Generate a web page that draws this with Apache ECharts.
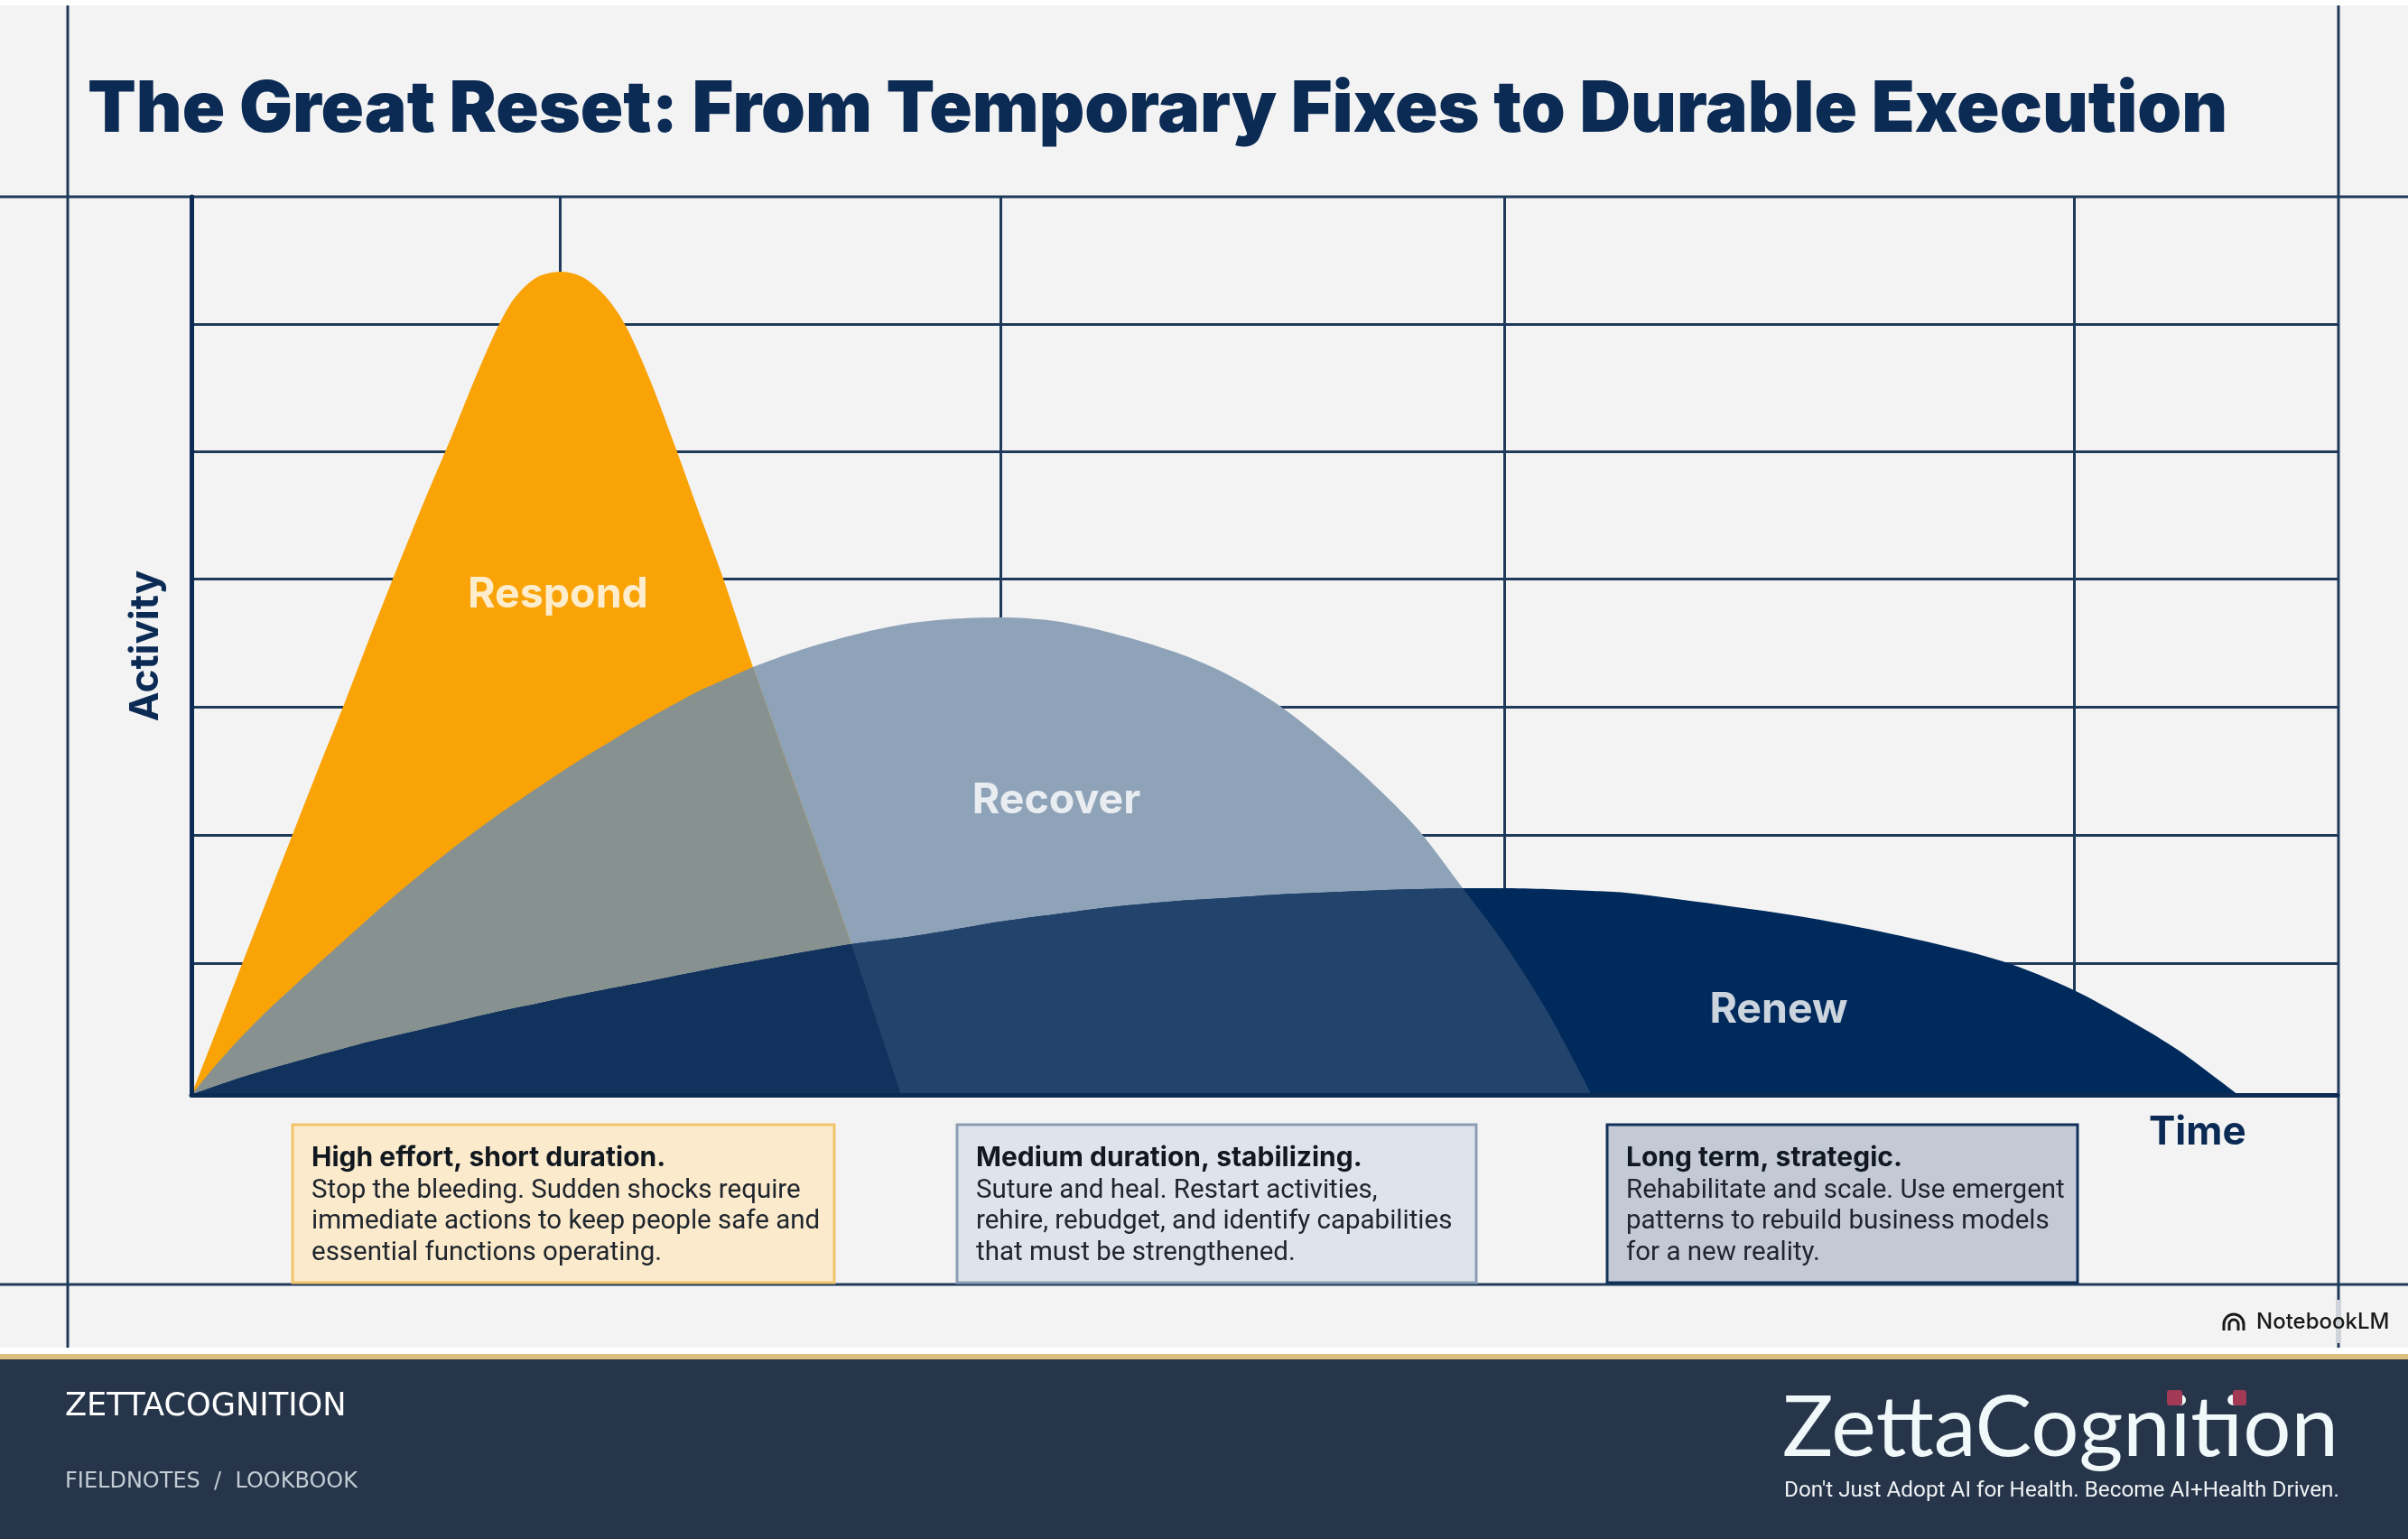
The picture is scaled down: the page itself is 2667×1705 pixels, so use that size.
<!DOCTYPE html>
<html>
<head>
<meta charset="utf-8">
<title>The Great Reset</title>
<style>
html, body { margin: 0; padding: 0; background: #fff; }
#container { width: 2667px; height: 1705px; }
</style>
<script src="https://cdn.jsdelivr.net/npm/echarts@6/dist/echarts.min.js"></script>
</head>
<body>
<div id="container"></div>
<script>
var titleText = 'The Great Reset: From Temporary Fixes to Durable Execution';

// time samples shared by the three curves
var times = [0, 2.8, 5.8, 8.8, 11.3, 13.8, 16.8, 19.8, 22.8, 25.8, 28.8, 31.3, 33.9, 35.8, 38.3, 41.0, 43.5,
    46.0, 48.1, 50.8, 53.7, 56.3, 58.8, 62.2, 67.2, 73.1, 78.6, 83.8, 89.6, 95.6, 101.8, 109.4, 114.5, 120.4,
    127.3, 132.4, 136.2, 140.8, 145.1, 150.2, 155.1, 158.8, 169.0, 179.2, 189.4, 200.6, 208.5, 214.9, 220.0,
    224.6, 226.7];
var respond = [0, 7.2, 15.0, 22.7, 29.1, 35.5, 43.0, 50.8, 58.4, 65.8, 72.9, 79.1, 85.0, 88.3, 90.6, 91.2, 90.5,
    88.3, 85.2, 79.2, 71.5, 64.3, 57.5, 47.4, 33.3, 16.7, 0];
var recover = [0, 3.4, 6.7, 9.7, 12.0, 14.3, 17.0, 19.7, 22.3, 24.8, 27.2, 29.1, 31.0, 32.3, 34.0, 35.8, 37.4,
    38.9, 40.2, 41.8, 43.4, 44.8, 45.9, 47.4, 49.2, 50.9, 52.1, 52.7, 52.9, 52.5, 51.2, 48.9, 46.7, 43.2,
    37.7, 33.0, 29.0, 22.9, 17.2, 9.2, 0];
var renew = [0, 1.0, 2.0, 2.9, 3.6, 4.3, 5.1, 5.9, 6.6, 7.3, 8.0, 8.6, 9.2, 9.6, 10.1, 10.7, 11.2,
    11.7, 12.1, 12.6, 13.2, 13.7, 14.2, 14.8, 15.7, 16.7, 17.4, 18.2, 19.2, 20.0, 20.8, 21.5, 21.8, 22.2,
    22.5, 22.7, 22.8, 22.9, 22.9, 22.8, 22.6, 22.4, 21.1, 19.6, 17.6, 14.8, 11.6, 8.1, 5.0, 1.6, 0];

var gridValuesY = [14.6, 28.8, 43.0, 57.2, 71.3, 85.4];
var gridValuesX = [40.8, 89.6, 145.4, 208.5];

var phaseNames = ['Respond', 'Recover', 'Renew'];
var phaseLabelX = [40.6, 95.8, 175.8];
var phaseLabelY = [55.4, 32.6, 9.4];

var boxHeads = ['High effort, short duration.', 'Medium duration, stabilizing.', 'Long term, strategic.'];
var boxBodies = [
    ['Stop the bleeding. Sudden shocks require', 'immediate actions to keep people safe and', 'essential functions operating.'],
    ['Suture and heal. Restart activities,', 'rehire, rebudget, and identify capabilities', 'that must be strengthened.'],
    ['Rehabilitate and scale. Use emergent', 'patterns to rebuild business models', 'for a new reality.']
];

var colors = {
    bg: '#f3f3f3',
    ink: '#0b2a54',
    rule: '#1f3a5a',
    respond: '#faa307',
    recover: '#8fa3b8',
    renew: '#002a5c',
    respondRecover: '#87918f',
    recoverRenew: '#22446c',
    allThree: '#10325c'
};

function area(name, values, color, z, start) {
    start = start || 0;
    return {
        name: name,
        type: 'line',
        data: values.map(function (v, i) { return [times[i + start], v]; }),
        showSymbol: false,
        silent: true,
        smooth: 0.3,
        z: z,
        lineStyle: { width: 0 },
        itemStyle: { color: color },
        areaStyle: { color: color, opacity: 1 }
    };
}
// the overlap of two curves: lowerFirst up to where they meet, then the other one
function overlap(name, lowerFirst, other, color, z) {
    var k = 1;
    while (lowerFirst[k] < other[k]) { k++; }
    return [
        area(name, lowerFirst.slice(0, k + 1), color, z),
        area(name, other.slice(k), color, z, k)
    ];
}
function rule(x1, y1, x2, y2, width, color, z) {
    return {
        type: 'line', z: z || -5, silent: true,
        shape: { x1: x1, y1: y1, x2: x2, y2: y2 },
        style: { stroke: color || colors.rule, lineWidth: width || 3 }
    };
}
// y is the text baseline
function text(str, x, y, weight, size, family, fill) {
    return {
        type: 'text', z: 30, silent: true,
        style: {
            text: str, x: x, y: y - size * 0.34, fill: fill,
            font: weight + ' ' + size + 'px ' + family,
            textVerticalAlign: 'middle'
        }
    };
}
function box(x, w, fill, stroke, i) {
    var out = [
        { type: 'rect', z: 20, silent: true, shape: { x: x, y: 1246, width: w, height: 175 },
          style: { fill: fill, stroke: stroke, lineWidth: 3 } },
        text(boxHeads[i], x + 21, 1293, 700, 30, 'Inter', '#111820')
    ];
    boxBodies[i].forEach(function (line, k) {
        out.push(text(line, x + 21, 1329.5 + k * 34.5, 400, 29.5, 'Roboto', '#20262e'));
    });
    return out;
}
function arch(r) {
    return [
        { type: 'arc', z: 30, silent: true, shape: { cx: 2474, cy: 1467, r: r, startAngle: Math.PI, endAngle: 0, clockwise: true },
          style: { stroke: '#1a1a1a', fill: null, lineWidth: 3 } },
        rule(2474 - r, 1467, 2474 - r, 1474, 3, '#1a1a1a', 30),
        rule(2474 + r, 1467, 2474 + r, 1474, 3, '#1a1a1a', 30)
    ];
}

var graphics = [
    { type: 'rect', z: -10, silent: true, shape: { x: 0, y: 6, width: 2667, height: 1487 }, style: { fill: colors.bg } },
    rule(75, 6, 75, 1493),
    rule(2590, 6, 2590, 1440),
    rule(2590, 1488, 2590, 1493),
    { type: 'rect', z: -5, silent: true, shape: { x: 2587, y: 1440, width: 6, height: 48 }, style: { fill: '#b9c0c9', opacity: 0.6 } },
    rule(0, 218, 2667, 218),
    rule(0, 1423, 2667, 1423),
    { type: 'rect', z: 0, silent: true, shape: { x: 0, y: 1500, width: 2667, height: 6 }, style: { fill: '#dcbf7a' } },
    { type: 'rect', z: 0, silent: true, shape: { x: 0, y: 1506, width: 2667, height: 199 }, style: { fill: '#263549' } },
    text('Time', 2380, 1270, 700, 44, 'Inter', colors.ink),
    text('ZETTACOGNITION', 72, 1571, 400, 35.2, '"DejaVu Sans"', '#ffffff'),
    text('FIELDNOTES  /  LOOKBOOK', 72, 1650, 400, 24, '"DejaVu Sans"', '#c3ccd5'),
    text('ZettaCognition', 1974, 1615, 400, 94, 'Lato', '#f0f8fa'),
    { type: 'rect', z: 31, silent: true, shape: { x: 2400, y: 1540, width: 17, height: 17, r: 3 }, style: { fill: '#a33a55' } },
    { type: 'rect', z: 31, silent: true, shape: { x: 2473, y: 1540, width: 15, height: 17, r: 3 }, style: { fill: '#a33a55' } },
    text("Don't Just Adopt AI for Health. Become AI+Health Driven.", 1976, 1660, 400, 24.3, 'Roboto', '#eef1f4'),
    text('NotebookLM', 2499, 1473, 500, 24, 'Inter', '#1a1a1a')
].concat(
    arch(11), arch(5),
    box(324, 600, '#fbeacb', '#f3c36a', 0),
    box(1060, 575, '#dfe4ec', '#8c9db4', 1),
    box(1780, 521, '#c3cad6', '#12315a', 2)
);

var dom = document.getElementById('container');
var myChart = echarts.init(dom);

var option = {
    animation: false,
    backgroundColor: '#ffffff',
    title: {
        text: titleText,
        left: 97,
        top: 83,
        padding: 0,
        textStyle: { fontFamily: 'Inter', fontWeight: 900, fontSize: 78.4, color: colors.ink }
    },
    grid: { left: 212, top: 218, right: 78, bottom: 492, outerBoundsMode: 'none' },
    xAxis: {
        type: 'value', min: 0, max: 237.7, z: 10,
        axisLine: { onZero: false, lineStyle: { color: colors.ink, width: 5 } },
        axisTick: { show: false }, axisLabel: { show: false }, splitLine: { show: false }
    },
    yAxis: {
        type: 'value', min: 0, max: 99.5, z: 10,
        name: 'Activity', nameLocation: 'middle', nameGap: 28, nameRotate: 90,
        nameTextStyle: { fontFamily: 'Inter', fontWeight: 700, fontSize: 44, color: colors.ink },
        axisLine: { show: true, lineStyle: { color: colors.ink, width: 5 } },
        axisTick: { show: false }, axisLabel: { show: false }, splitLine: { show: false }
    },
    graphic: graphics,
    series: [
        {
            name: 'gridlines', type: 'line', data: [], silent: true,
            markLine: {
                silent: true, symbol: 'none', z: 1, animation: false, label: { show: false },
                lineStyle: { color: colors.rule, width: 3, type: 'solid' },
                data: gridValuesY.map(function (v) { return { yAxis: v }; })
                    .concat(gridValuesX.map(function (v) { return { xAxis: v }; }))
            }
        },
        area('Recover', recover, colors.recover, 3),
        area('Respond', respond, colors.respond, 4)
    ].concat(
        overlap('Respond and Recover', recover, respond, colors.respondRecover, 5),
        [area('Renew', renew, colors.renew, 6)],
        overlap('Recover and Renew', renew, recover, colors.recoverRenew, 7),
        overlap('All three', renew, respond, colors.allThree, 8),
        [{
            name: 'phase labels', type: 'scatter', symbolSize: 0, z: 9, silent: true,
            data: phaseNames.map(function (n, i) { return { name: n, value: [phaseLabelX[i], phaseLabelY[i]] }; }),
            label: {
                show: true, position: 'inside', formatter: '{b}', color: '#ffffff',
                fontFamily: 'Inter', fontWeight: 700, fontSize: 46.5
            }
        }]
    )
};

myChart.setOption(option, true);
window.addEventListener('resize', function () {
    myChart.resize();
});
</script>
</body>
</html>
